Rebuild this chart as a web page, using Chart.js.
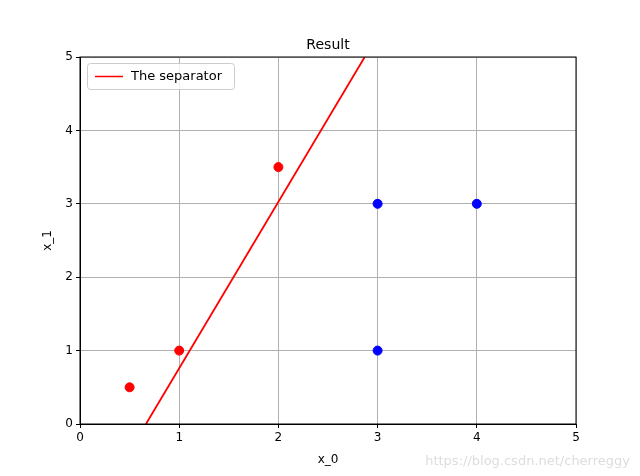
<!DOCTYPE html>
<html><head>
<script src="https://cdn.jsdelivr.net/npm/chart.js@4/dist/chart.umd.min.js"></script>
<style>
body{margin:0;background:#fff;}
#wrap{position:relative;width:640px;height:476px;}
#wm{position:absolute;right:10px;bottom:8px;font:13px "DejaVu Sans",sans-serif;color:#ddd;}
</style></head>
<body><div id="wrap"><canvas id="c" width="640" height="476"></canvas><div id="wm">https://blog.csdn.net/cherreggy</div></div>
<script>
// data
const redPoints = [{x:0.5,y:0.5},{x:1,y:1},{x:2,y:3.5}];
const bluePoints = [{x:3,y:3},{x:4,y:3},{x:3,y:1}];
const separator = [{x:0.665,y:0},{x:2.87,y:5}];
const ticks = [0,1,2,3,4,5];

const font = {family:'DejaVu Sans', size:12};

const overlay = {
  id:'overlay',
  afterDraw(chart){
    const ctx = chart.ctx, a = chart.chartArea;
    ctx.save();
    ctx.strokeStyle='#000'; ctx.lineWidth=1;
    ctx.strokeRect(a.left,a.top,a.right-a.left,a.bottom-a.top);
    ctx.fillStyle='#000';
    ctx.font='14px "DejaVu Sans"';
    ctx.textAlign='center'; ctx.textBaseline='alphabetic';
    ctx.fillText('Result',(a.left+a.right)/2,a.top-8);
    // axis titles
    ctx.font='12px "DejaVu Sans"'; ctx.textBaseline='middle';
    ctx.fillText('x_0',(a.left+a.right)/2,460);
    ctx.translate(48,(a.top+a.bottom)/2); ctx.rotate(-Math.PI/2);
    ctx.fillText('x_1',0,0);
    ctx.setTransform(1,0,0,1,0,0);
    // legend
    ctx.fillStyle='rgba(255,255,255,0.8)';
    ctx.strokeStyle='#ccc'; ctx.lineWidth=1;
    ctx.beginPath(); ctx.roundRect(a.left+7.5,a.top+6.5,147,26,3); ctx.fill(); ctx.stroke();
    ctx.strokeStyle='red'; ctx.lineWidth=1.5;
    ctx.beginPath(); ctx.moveTo(a.left+15,a.top+19.5); ctx.lineTo(a.left+43,a.top+19.5); ctx.stroke();
    ctx.fillStyle='#000'; ctx.font='13px "DejaVu Sans"'; ctx.textAlign='left'; ctx.textBaseline='middle';
    ctx.fillText('The separator',a.left+51,a.top+19.5);
    ctx.restore();
  }
};

new Chart(document.getElementById('c'),{
  type:'scatter',
  data:{datasets:[
    {label:'The separator',data:separator,showLine:true,borderColor:'red',borderWidth:1.8,pointRadius:0,fill:false,order:2},
    {label:'red',data:redPoints,backgroundColor:'red',borderColor:'red',pointRadius:4.5,order:1},
    {label:'blue',data:bluePoints,backgroundColor:'blue',borderColor:'blue',pointRadius:4.5,order:1}
  ]},
  options:{
    responsive:false,animation:false,
    layout:{padding:{left:0,right:64,top:57,bottom:0}},
    plugins:{legend:{display:false},title:{display:false},tooltip:{enabled:false}},
    scales:{
      x:{type:'linear',min:0,max:5,
        afterBuildTicks:s=>{s.ticks=ticks.map(v=>({value:v}));},
        afterFit:s=>{s.height=52;},
        ticks:{color:'#000',font,padding:3},
        grid:{color:'#b0b0b0',tickColor:'#000',tickLength:4},
        border:{color:'#000'}},
      y:{type:'linear',min:0,max:5,
        afterBuildTicks:s=>{s.ticks=ticks.map(v=>({value:v}));},
        afterFit:s=>{s.width=80;},
        ticks:{color:'#000',font,padding:3},
        grid:{color:'#b0b0b0',tickColor:'#000',tickLength:4},
        border:{color:'#000'}}
    }
  },
  plugins:[overlay]
});
</script></body></html>
